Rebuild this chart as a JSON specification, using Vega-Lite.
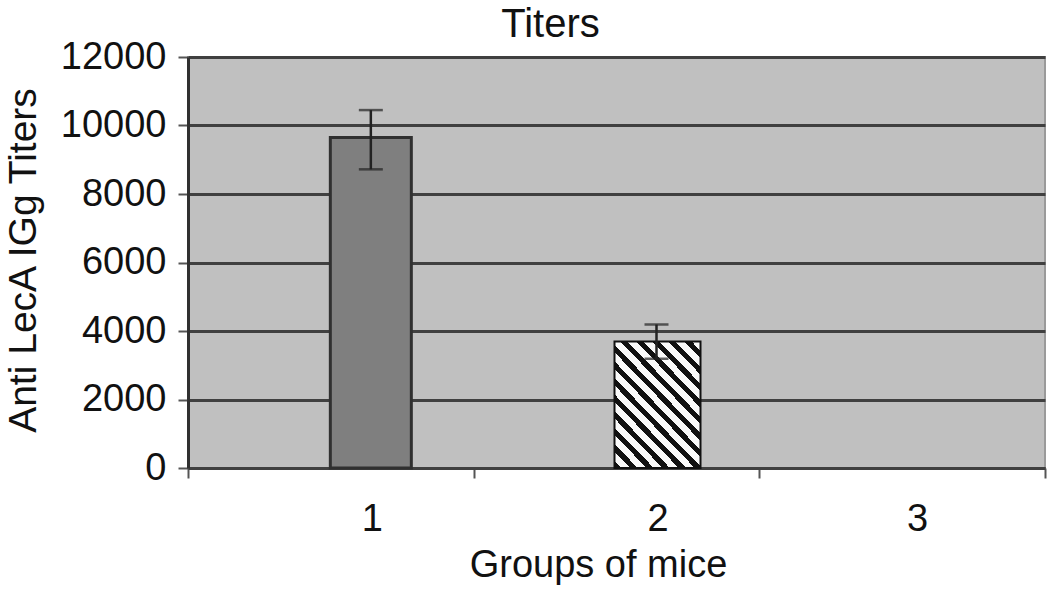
{
  "$schema": "https://vega.github.io/schema/vega-lite/v6.json",
  "width": 857,
  "height": 411,
  "autosize": {"type": "none"},
  "padding": {"left": 188, "top": 57, "right": 5, "bottom": 122},
  "background": "white",
  "config": {
    "font": "Liberation Sans",
    "view": {"fill": "#c0c0c0", "stroke": "#9a9a9a", "strokeWidth": 2}
  },
  "title": {
    "text": "Titers",
    "fontSize": 40,
    "fontWeight": "normal",
    "color": "#111",
    "anchor": "middle",
    "dx": -66,
    "offset": -7
  },
  "data": {
    "values": [
      {"group": "1", "value": 9650, "lower": 8720, "upper": 10450},
      {"group": "2", "value": 3690, "lower": 3190, "upper": 4190}
    ]
  },
  "encoding": {
    "x": {
      "field": "group",
      "type": "nominal",
      "scale": {"domain": ["1", "2", "3"], "paddingInner": 0, "paddingOuter": 0},
      "axis": {
        "title": "Groups of mice",
        "titleFontSize": 38,
        "titleFontWeight": "normal",
        "titleColor": "#111",
        "titleX": 410,
        "titleY": 97,
        "titleAlign": "center",
        "titleBaseline": "middle",
        "labelAngle": 0,
        "labelFontSize": 38,
        "labelColor": "#111",
        "labelPadding": 22,
        "labelOffset": {"expr": "datum.label == '3' ? 15 : 41"},
        "tickBand": "extent",
        "tickSize": 10,
        "tickWidth": 2,
        "tickColor": "#555",
        "domainColor": "#404040",
        "domainWidth": 3,
        "grid": false
      }
    }
  },
  "layer": [
    {
      "transform": [{"filter": "datum.group == '1'"}],
      "mark": {"type": "bar", "width": 81, "xOffset": 40, "fill": "#7f7f7f", "stroke": "#303030", "strokeWidth": 3},
      "encoding": {
        "y": {
          "field": "value",
          "type": "quantitative",
          "scale": {"domain": [0, 12000], "nice": false},
          "axis": {
            "title": "Anti LecA IGg Titers",
            "titleFontSize": 39,
            "titleFontWeight": "normal",
            "titleColor": "#111",
            "titleX": -165,
            "titleY": 203,
            "titleAlign": "center",
            "titleBaseline": "middle",
            "titleAngle": -90,
            "values": [0, 2000, 4000, 6000, 8000, 10000, 12000],
            "format": "d",
            "labelFontSize": 38,
            "labelColor": "#111",
            "labelPadding": 12,
            "tickSize": 10,
            "tickWidth": 2,
            "tickColor": "#555",
            "domainColor": "#303030",
            "domainWidth": 3,
            "grid": true,
            "gridColor": "#404040",
            "gridWidth": 3
          }
        }
      }
    },
    {
      "transform": [{"filter": "datum.group == '2'"}],
      "mark": {
        "type": "bar",
        "width": 86,
        "xOffset": 41,
        "stroke": "#111",
        "strokeWidth": 2,
        "fill": {
          "gradient": "linear",
          "x1": 0, "y1": 1, "x2": 0.799, "y2": -0.141,
          "stops": [
            {"offset": 0, "color": "#111"}, {"offset": 0.0346, "color": "#111"},
            {"offset": 0.0346, "color": "#fafafa"}, {"offset": 0.0769, "color": "#fafafa"},
            {"offset": 0.0769, "color": "#111"}, {"offset": 0.1115, "color": "#111"},
            {"offset": 0.1115, "color": "#fafafa"}, {"offset": 0.1538, "color": "#fafafa"},
            {"offset": 0.1538, "color": "#111"}, {"offset": 0.1885, "color": "#111"},
            {"offset": 0.1885, "color": "#fafafa"}, {"offset": 0.2308, "color": "#fafafa"},
            {"offset": 0.2308, "color": "#111"}, {"offset": 0.2654, "color": "#111"},
            {"offset": 0.2654, "color": "#fafafa"}, {"offset": 0.3077, "color": "#fafafa"},
            {"offset": 0.3077, "color": "#111"}, {"offset": 0.3423, "color": "#111"},
            {"offset": 0.3423, "color": "#fafafa"}, {"offset": 0.3846, "color": "#fafafa"},
            {"offset": 0.3846, "color": "#111"}, {"offset": 0.4192, "color": "#111"},
            {"offset": 0.4192, "color": "#fafafa"}, {"offset": 0.4615, "color": "#fafafa"},
            {"offset": 0.4615, "color": "#111"}, {"offset": 0.4962, "color": "#111"},
            {"offset": 0.4962, "color": "#fafafa"}, {"offset": 0.5385, "color": "#fafafa"},
            {"offset": 0.5385, "color": "#111"}, {"offset": 0.5731, "color": "#111"},
            {"offset": 0.5731, "color": "#fafafa"}, {"offset": 0.6154, "color": "#fafafa"},
            {"offset": 0.6154, "color": "#111"}, {"offset": 0.65, "color": "#111"},
            {"offset": 0.65, "color": "#fafafa"}, {"offset": 0.6923, "color": "#fafafa"},
            {"offset": 0.6923, "color": "#111"}, {"offset": 0.7269, "color": "#111"},
            {"offset": 0.7269, "color": "#fafafa"}, {"offset": 0.7692, "color": "#fafafa"},
            {"offset": 0.7692, "color": "#111"}, {"offset": 0.8038, "color": "#111"},
            {"offset": 0.8038, "color": "#fafafa"}, {"offset": 0.8462, "color": "#fafafa"},
            {"offset": 0.8462, "color": "#111"}, {"offset": 0.8808, "color": "#111"},
            {"offset": 0.8808, "color": "#fafafa"}, {"offset": 0.9231, "color": "#fafafa"},
            {"offset": 0.9231, "color": "#111"}, {"offset": 0.9577, "color": "#111"},
            {"offset": 0.9577, "color": "#fafafa"}, {"offset": 1, "color": "#fafafa"}
          ]
        }
      },
      "encoding": {
        "y": {"field": "value", "type": "quantitative"}
      }
    },
    {
      "mark": {"type": "rule", "xOffset": 40, "color": "#222", "strokeWidth": 2.5},
      "encoding": {
        "y": {"field": "lower", "type": "quantitative"},
        "y2": {"field": "upper"}
      }
    },
    {
      "mark": {"type": "tick", "xOffset": 40, "color": "#222", "thickness": 2.5, "size": 24, "orient": "horizontal"},
      "encoding": {
        "y": {"field": "upper", "type": "quantitative"}
      }
    },
    {
      "mark": {"type": "tick", "xOffset": 40, "color": "#222", "thickness": 2.5, "size": 24, "orient": "horizontal"},
      "encoding": {
        "y": {"field": "lower", "type": "quantitative"}
      }
    }
  ]
}
